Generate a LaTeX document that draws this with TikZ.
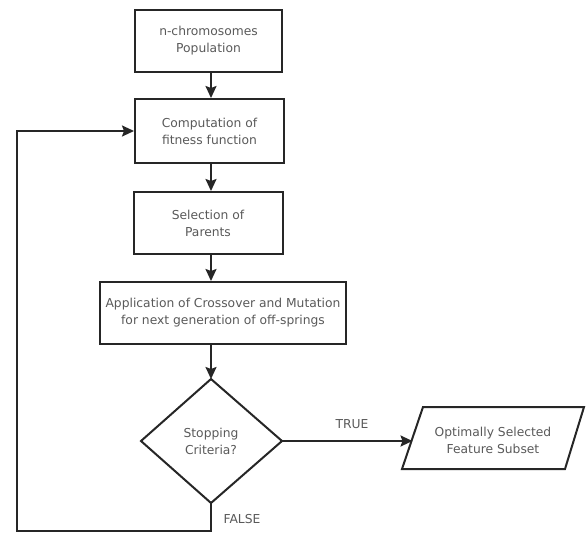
\documentclass[tikz,border=0pt]{standalone}
\usepackage{fontspec}
\setmainfont{DejaVu Sans}
\usetikzlibrary{shapes.geometric,arrows.meta}
\begin{document}
\begin{tikzpicture}[x=1pt,y=-1pt,
  every node/.style={font=\fontsize{12.3}{17}\selectfont, text=black!65},
  proc/.style={draw=black!85, line width=2pt, align=center, inner sep=0pt},
  link/.style={draw=black!85, line width=2pt, -{Stealth[length=12pt,width=11pt,inset=2pt]}},
  plain/.style={draw=black!85, line width=2pt}]
\useasboundingbox (0,0) rectangle (586,533);
\node[proc, minimum width=147pt, minimum height=62pt] (pop) at (208.5,41) {n-chromosomes\\Population};
\node[proc, minimum width=149pt, minimum height=64pt] (fit) at (209.5,131) {Computation of\\fitness function};
\node[proc, minimum width=149pt, minimum height=62pt] (sel) at (208,223) {Selection of\\Parents};
\node[proc, minimum width=246pt, minimum height=62pt] (cross) at (223,313) {Application of Crossover and Mutation\\for next generation of off-springs};
\draw[plain] (211,379) coordinate (dt) -- (282,441) coordinate (dr) -- (211,503) coordinate (db) -- (141,441) coordinate (dl) -- cycle;
\node[align=center] (stop) at (211,441) {Stopping\\Criteria?};
\draw[plain] (423,407) coordinate (p1) -- (584,407) -- (565,469) -- (402,469) coordinate (p4) -- cycle;
\coordinate (pin) at (412.5,438);
\node[align=center] (opt) at (493,440) {Optimally Selected\\Feature Subset};
\node (true) at (352,424) {TRUE};
\node (false) at (242,519) {FALSE};
\coordinate (bl) at (17,531);
\coordinate (br) at (211,531);
\draw[link] (pop.south -| 211,0) -- (fit.north -| 211,0);
\draw[link] (fit.south -| 211,0) -- (sel.north -| 211,0);
\draw[link] (sel.south -| 211,0) -- (cross.north -| 211,0);
\draw[link] (cross.south -| 211,0) -- (dt);
\draw[link] (dr) -- (dr -| pin);
\draw[link] (db) -- (br) -- (bl) |- (fit.west);
\end{tikzpicture}
\end{document}
